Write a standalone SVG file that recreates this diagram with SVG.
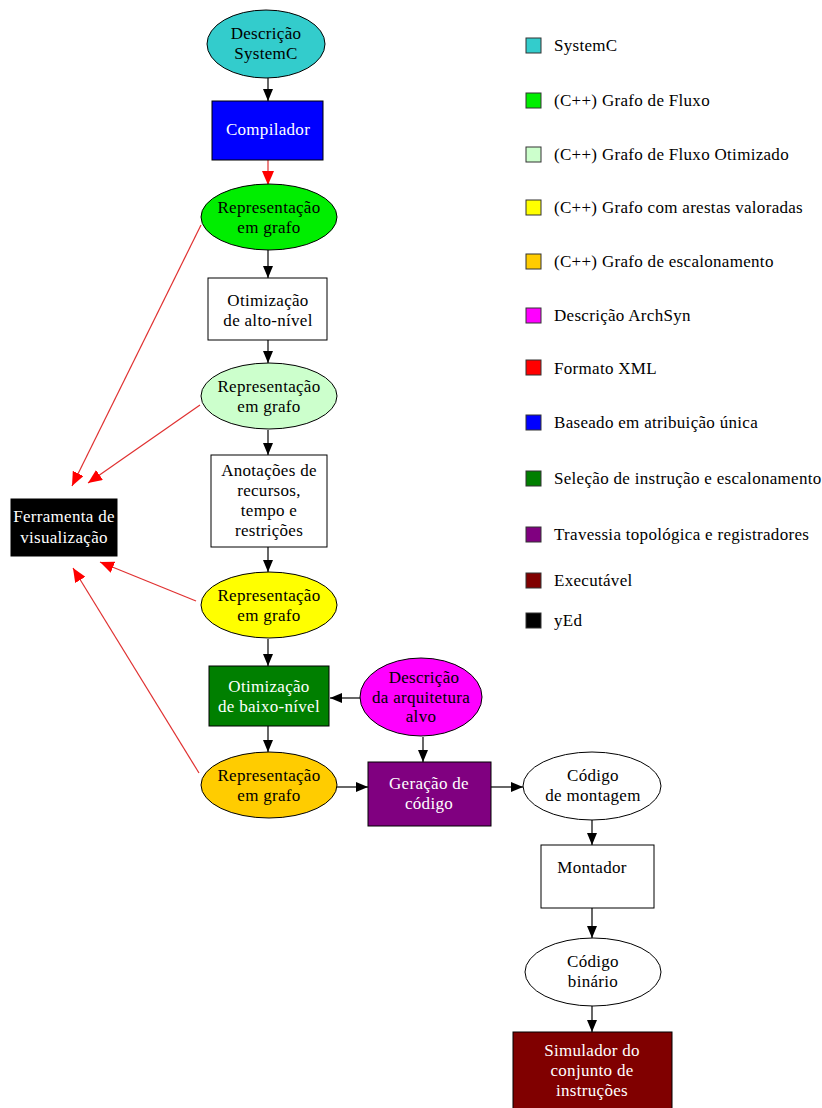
<svg xmlns="http://www.w3.org/2000/svg" width="822" height="1108" viewBox="0 0 822 1108">
<style>
text{font-family:"Liberation Serif","Times New Roman",serif;font-size:17px;letter-spacing:0.3px;fill:#000}
.c{text-anchor:middle}
.w{fill:#fff}
.n{stroke:#000;stroke-width:1}
.e{stroke:#000;stroke-width:1.2;fill:none}
.r{stroke:#e03030;stroke-width:1.2;fill:none}
.lg{stroke:#333;stroke-width:1}
</style>
<defs>
<marker id="ab" markerUnits="userSpaceOnUse" markerWidth="12" markerHeight="10" refX="12" refY="5" orient="auto"><path d="M0,0 L12,5 L0,10 Z" fill="#000"/></marker>
<marker id="ar" markerUnits="userSpaceOnUse" markerWidth="14" markerHeight="12" refX="14" refY="6" orient="auto"><path d="M0,0 L14,6 L0,12 Z" fill="#ff0000"/></marker>
</defs>
<rect width="822" height="1108" fill="#fff"/>
<g id="connectors">
<line class="e" x1="268" y1="78" x2="268" y2="101" marker-end="url(#ab)"/>
<line class="r" x1="268" y1="160" x2="268" y2="185" marker-end="url(#ar)"/>
<line class="e" x1="268" y1="250" x2="268" y2="278" marker-end="url(#ab)"/>
<line class="e" x1="268" y1="340" x2="268" y2="363" marker-end="url(#ab)"/>
<line class="e" x1="268" y1="430" x2="268" y2="455" marker-end="url(#ab)"/>
<line class="e" x1="268" y1="547" x2="268" y2="572" marker-end="url(#ab)"/>
<line class="e" x1="268" y1="639" x2="268" y2="666" marker-end="url(#ab)"/>
<line class="e" x1="268" y1="726" x2="268" y2="752" marker-end="url(#ab)"/>
<line class="e" x1="360" y1="698" x2="330" y2="698" marker-end="url(#ab)"/>
<line class="e" x1="423" y1="737" x2="423" y2="762" marker-end="url(#ab)"/>
<line class="e" x1="337" y1="787" x2="368" y2="787" marker-end="url(#ab)"/>
<line class="e" x1="491" y1="787" x2="523" y2="787" marker-end="url(#ab)"/>
<line class="e" x1="592" y1="820" x2="592" y2="845" marker-end="url(#ab)"/>
<line class="e" x1="592" y1="908" x2="592" y2="938" marker-end="url(#ab)"/>
<line class="e" x1="592" y1="1006" x2="592" y2="1032" marker-end="url(#ab)"/>
<line class="r" x1="201" y1="225" x2="72" y2="486" marker-end="url(#ar)"/>
<line class="r" x1="200" y1="405" x2="88" y2="483" marker-end="url(#ar)"/>
<line class="r" x1="196" y1="601" x2="100" y2="562" marker-end="url(#ar)"/>
<line class="r" x1="199" y1="773" x2="73" y2="568" marker-end="url(#ar)"/>
</g>
<g id="n-systemc">
<ellipse class="n" cx="266" cy="44" rx="59" ry="34" fill="#33cccc"/>
<text class="c" x="266" y="39">Descrição</text>
<text class="c" x="266" y="59">SystemC</text>
</g>
<g id="n-compilador">
<rect class="n" x="212" y="101" width="111" height="59" fill="#0000ff"/>
<text class="c w" x="268" y="135">Compilador</text>
</g>
<g id="n-rep1">
<ellipse class="n" cx="269" cy="217" rx="68" ry="33" fill="#00ee00"/>
<text class="c" x="269" y="213">Representação</text>
<text class="c" x="269" y="233">em grafo</text>
</g>
<g id="n-otalto">
<rect class="n" x="208" y="278" width="119" height="62" fill="#fff"/>
<text class="c" x="268" y="306">Otimização</text>
<text class="c" x="268" y="326">de alto-nível</text>
</g>
<g id="n-rep2">
<ellipse class="n" cx="269" cy="396" rx="68" ry="33" fill="#ccffcc"/>
<text class="c" x="269" y="392">Representação</text>
<text class="c" x="269" y="412">em grafo</text>
</g>
<g id="n-anot">
<rect class="n" x="211" y="455" width="116" height="92" fill="#fff"/>
<text class="c" x="269" y="476">Anotações de</text>
<text class="c" x="269" y="496">recursos,</text>
<text class="c" x="269" y="516">tempo e</text>
<text class="c" x="269" y="536">restrições</text>
</g>
<g id="n-ferramenta">
<rect class="n" x="11" y="499" width="106" height="57" fill="#000"/>
<text class="c w" x="64" y="522">Ferramenta de</text>
<text class="c w" x="64" y="543">visualização</text>
</g>
<g id="n-rep3">
<ellipse class="n" cx="269" cy="605" rx="68" ry="33" fill="#ffff00"/>
<text class="c" x="269" y="601">Representação</text>
<text class="c" x="269" y="621">em grafo</text>
</g>
<g id="n-otbaixo">
<rect class="n" x="209" y="666" width="120" height="60" fill="#007f00"/>
<text class="c w" x="269" y="692">Otimização</text>
<text class="c w" x="269" y="712">de baixo-nível</text>
</g>
<g id="n-arq">
<ellipse class="n" cx="421" cy="697" rx="61" ry="39" fill="#ff00ff"/>
<text class="c" x="424" y="683">Descrição</text>
<text class="c" x="421" y="703">da arquitetura</text>
<text class="c" x="421" y="722">alvo</text>
</g>
<g id="n-rep4">
<ellipse class="n" cx="269" cy="785" rx="68" ry="33" fill="#ffcc00"/>
<text class="c" x="269" y="781">Representação</text>
<text class="c" x="269" y="801">em grafo</text>
</g>
<g id="n-geracao">
<rect class="n" x="368" y="762" width="123" height="64" fill="#800080"/>
<text class="c w" x="429" y="789">Geração de</text>
<text class="c w" x="429" y="809">código</text>
</g>
<g id="n-montagem">
<ellipse class="n" cx="592" cy="786" rx="69" ry="34" fill="#fff"/>
<text class="c" x="593" y="781">Código</text>
<text class="c" x="593" y="801">de montagem</text>
</g>
<g id="n-montador">
<rect class="n" x="541" y="845" width="113" height="63" fill="#fff"/>
<text class="c" x="592" y="873">Montador</text>
</g>
<g id="n-binario">
<ellipse class="n" cx="593" cy="972" rx="68" ry="34" fill="#fff"/>
<text class="c" x="593" y="967">Código</text>
<text class="c" x="593" y="987">binário</text>
</g>
<g id="n-simulador">
<rect class="n" x="513" y="1032" width="159" height="80" fill="#800000"/>
<text class="c w" x="592" y="1056">Simulador do</text>
<text class="c w" x="592" y="1076">conjunto de</text>
<text class="c w" x="592" y="1096">instruções</text>
</g>
<g id="legend">
<rect class="lg" x="526" y="38" width="15" height="15" fill="#33cccc"/><text x="554" y="51">SystemC</text>
<rect class="lg" x="526" y="93" width="15" height="15" fill="#00ee00"/><text x="554" y="106">(C++) Grafo de Fluxo</text>
<rect class="lg" x="526" y="147" width="15" height="15" fill="#ccffcc"/><text x="554" y="160">(C++) Grafo de Fluxo Otimizado</text>
<rect class="lg" x="526" y="200" width="15" height="15" fill="#ffff00"/><text x="554" y="213">(C++) Grafo com arestas valoradas</text>
<rect class="lg" x="526" y="254" width="15" height="15" fill="#ffcc00"/><text x="554" y="267">(C++) Grafo de escalonamento</text>
<rect class="lg" x="526" y="308" width="15" height="15" fill="#ff00ff"/><text x="554" y="321">Descrição ArchSyn</text>
<rect class="lg" x="526" y="360" width="15" height="15" fill="#ff0000"/><text x="554" y="374">Formato XML</text>
<rect class="lg" x="526" y="415" width="15" height="15" fill="#0000ff"/><text x="554" y="428">Baseado em atribuição única</text>
<rect class="lg" x="526" y="471" width="15" height="15" fill="#007f00"/><text x="554" y="484">Seleção de instrução e escalonamento</text>
<rect class="lg" x="526" y="527" width="15" height="15" fill="#800080"/><text x="554" y="540">Travessia topológica e registradores</text>
<rect class="lg" x="526" y="573" width="15" height="15" fill="#800000"/><text x="554" y="586">Executável</text>
<rect class="lg" x="526" y="613" width="15" height="15" fill="#000"/><text x="554" y="626">yEd</text>
</g>
</svg>
